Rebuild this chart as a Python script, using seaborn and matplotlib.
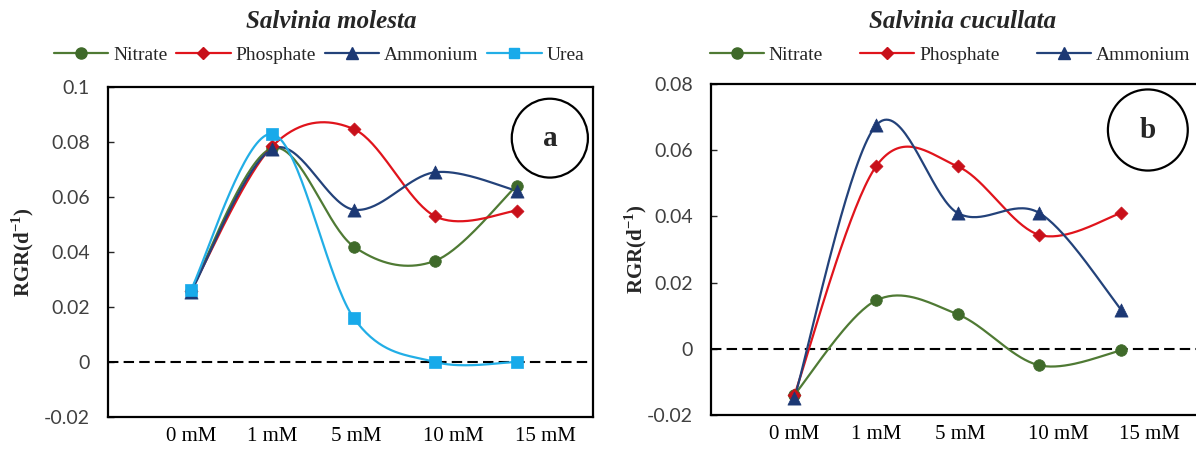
import numpy as np
import pandas as pd
import matplotlib
matplotlib.use("Agg")
import matplotlib.pyplot as plt
import seaborn as sns
from matplotlib.lines import Line2D
from matplotlib.patches import Ellipse

# ---------------- data ----------------
categories = ["0 mM", "1 mM", "5 mM", "10 mM", "15 mM"]
series_a = ["Nitrate", "Phosphate", "Ammonium", "Urea"]
series_b = ["Nitrate", "Phosphate", "Ammonium"]

a_nitrate = [0.026, 0.0778, 0.042, 0.0368, 0.0641]
a_phosphate = [0.026, 0.0785, 0.0847, 0.053, 0.055]
a_ammonium = [0.0255, 0.0775, 0.0554, 0.069, 0.0623]
a_urea = [0.0263, 0.0829, 0.016, 0.0, 0.0]

b_nitrate = [-0.0139, 0.0146, 0.0104, -0.005, -0.0005]
b_phosphate = [-0.014, 0.0551, 0.0551, 0.0344, 0.041]
b_ammonium = [-0.015, 0.0675, 0.0410, 0.0410, 0.0118]

y_ticks_a = [-0.02, 0, 0.02, 0.04, 0.06, 0.08, 0.1]
y_tick_labels_a = ["-0.02", "0", "0.02", "0.04", "0.06", "0.08", "0.1"]
y_ticks_b = [-0.02, 0, 0.02, 0.04, 0.06, 0.08]
y_tick_labels_b = ["-0.02", "0", "0.02", "0.04", "0.06", "0.08"]

# ---------------- style ----------------
sns.set_theme(style="white")
plt.rcParams['font.family'] = ['Liberation Serif', 'DejaVu Serif']
plt.rcParams['mathtext.fontset'] = 'custom'
plt.rcParams['mathtext.rm'] = 'Liberation Serif'
plt.rcParams['mathtext.bf'] = 'Liberation Serif:bold'

styles = {
    "Nitrate":   dict(line="#4f7a34", mk="#3f6a2a", marker="o", s=70),
    "Phosphate": dict(line="#e0141c", mk="#c8101a", marker="D", s=44),
    "Ammonium":  dict(line="#23427a", mk="#1c3874", marker="^", s=90),
    "Urea":      dict(line="#22aee6", mk="#18aaea", marker="s", s=66),
}

label_pos = [0, 1, 2.03, 3.23, 4.35]
serif = 'Liberation Serif'


def smooth(xv, yv, n=40):
    """Excel-style smoothed line: Catmull-Rom bezier through the points."""
    P = np.column_stack([xv, yv]).astype(float)
    m = len(P)
    out = []
    for i in range(m - 1):
        p0 = P[i - 1] if i > 0 else P[i]
        p1, p2 = P[i], P[i + 1]
        p3 = P[i + 2] if i + 2 < m else P[i + 1]
        c1 = p1 + (p2 - p0) / 6.0
        c2 = p2 - (p3 - p1) / 6.0
        t = np.linspace(0, 1, n)[:, None]
        seg = ((1 - t) ** 3) * p1 + 3 * ((1 - t) ** 2) * t * c1 + 3 * (1 - t) * t ** 2 * c2 + t ** 3 * p2
        out.append(seg if i == 0 else seg[1:])
    out = np.vstack(out)
    return out[:, 0], out[:, 1]


fig = plt.figure(figsize=(11.96, 4.5), dpi=100)
ax_a = fig.add_axes([108 / 1196, 1 - 417 / 450, 485 / 1196, 330 / 450])
ax_b = fig.add_axes([711 / 1196, 1 - 415 / 450, 487 / 1196, 331 / 450])


def draw_panel(ax, names, data, ylim, yticks, ylabels, letter, circ):
    x_idx = np.arange(len(categories))
    for name, vals in zip(names, data):
        st = styles[name]
        xs, ys = smooth(x_idx, vals)
        sns.lineplot(x=xs, y=ys, ax=ax, color=st["line"], lw=1.6, sort=False,
                     estimator=None, zorder=2)
        sns.scatterplot(x=x_idx, y=vals, ax=ax, marker=st["marker"], s=st["s"],
                        color=st["mk"], edgecolor=st["mk"], linewidth=0.5, zorder=3)
    ax.axhline(0, color="black", lw=1.5, ls=(0, (5, 2.5)), zorder=1)
    ax.set_xlim(-1.02, 4.94)
    ax.set_ylim(*ylim)
    ax.set_yticks(yticks)
    ax.set_yticklabels(ylabels, fontfamily="Lato", fontsize=14, color="#404040")
    ax.set_xticks(label_pos)
    ax.set_xticklabels(categories, fontfamily=serif, fontsize=15, color="black")
    ax.tick_params(axis="x", length=0, pad=7)
    ax.tick_params(axis="y", direction="in", length=4, width=1, pad=13, left=True)
    for sp in ax.spines.values():
        sp.set_color("black")
        sp.set_linewidth(1.6)
        sp.set_visible(True)
    ax.set_ylabel(r"RGR(d$^{\mathbf{-1}}$)", fontfamily=serif, fontweight="bold", fontsize=15)
    ax.set_xlabel("")
    if ax.get_legend():
        ax.get_legend().remove()
    cx, cy, w, h = circ
    ax.add_patch(Ellipse((cx, cy), w, h, transform=ax.transAxes, fill=False,
                         edgecolor="black", lw=1.6, zorder=4, clip_on=False))
    ax.text(cx, cy, letter, transform=ax.transAxes, ha="center", va="center",
            fontfamily=serif, fontweight="bold", fontsize=21, zorder=5)


draw_panel(ax_a, series_a, [a_nitrate, a_phosphate, a_ammonium, a_urea],
           (-0.02, 0.1), y_ticks_a, y_tick_labels_a, "a", (0.911, 0.845, 0.157, 0.239))
draw_panel(ax_b, series_b, [b_nitrate, b_phosphate, b_ammonium],
           (-0.02, 0.08), y_ticks_b, y_tick_labels_b, "b", (0.897, 0.861, 0.164, 0.245))
ax_a.yaxis.set_label_coords(-0.148, 0.5)
ax_b.yaxis.set_label_coords(-0.128, 0.5)


def handles(names):
    return [Line2D([0], [0], color=styles[n]["line"], lw=1.6, marker=styles[n]["marker"],
                   markersize={"o": 8, "D": 6.3, "^": 8.5, "s": 7.5}[styles[n]["marker"]],
                   markerfacecolor=styles[n]["mk"], markeredgecolor=styles[n]["mk"])
            for n in names]


fig.legend(handles(series_a), series_a, loc="center", bbox_to_anchor=(319 / 1196, 1 - 55 / 450),
           ncol=4, frameon=False, handlelength=2.8, handletextpad=0.25, columnspacing=0.45,
           prop={"family": serif, "size": 14})
fig.legend(handles(series_b), series_b, loc="center", bbox_to_anchor=(950 / 1196, 1 - 55 / 450),
           ncol=3, frameon=False, handlelength=2.8, handletextpad=0.25, columnspacing=1.9,
           prop={"family": serif, "size": 14})

fig.text(331 / 1196, 1 - 22 / 450, "Salvinia molesta", ha="center", va="center",
         fontfamily=serif, fontstyle="italic", fontweight="bold", fontsize=18)
fig.text(963 / 1196, 1 - 22 / 450, "Salvinia cucullata", ha="center", va="center",
         fontfamily=serif, fontstyle="italic", fontweight="bold", fontsize=18)

fig.savefig("out.png", dpi=100)
